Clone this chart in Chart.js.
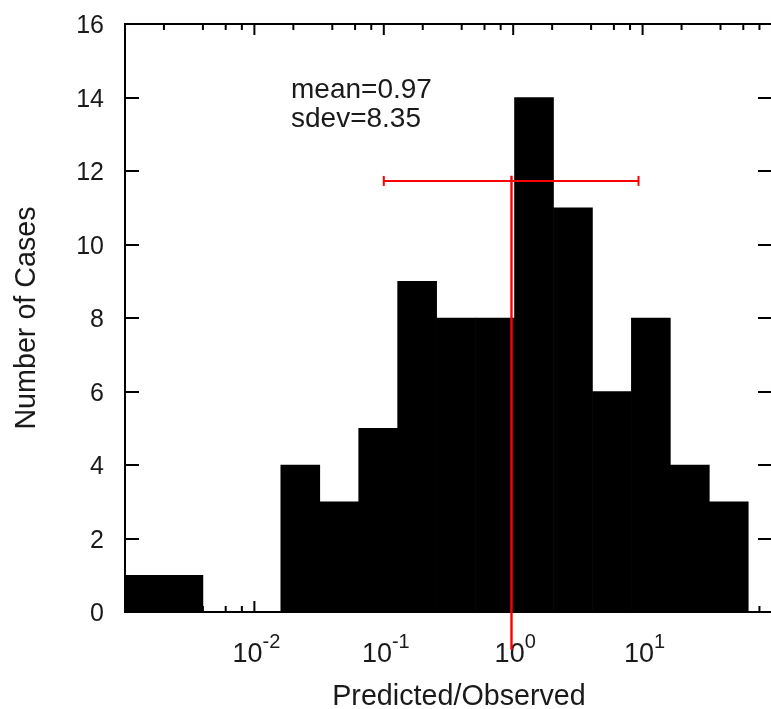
<!DOCTYPE html>
<html>
<head>
<meta charset="utf-8">
<script src="https://cdn.jsdelivr.net/npm/chart.js@4.4.1/dist/chart.umd.min.js"></script>
<style>
  html, body { margin: 0; padding: 0; background: #fff; overflow: hidden; }
  #wrap { width: 771px; height: 709px; overflow: hidden; position: relative; }
  canvas { display: block; }
</style>
</head>
<body>
<div id="wrap"><canvas id="c" width="780" height="709"></canvas></div>
<script>
// ---- data ----
const binEdges = [0.001, 0.002, 0.004, 0.008, 0.016, 0.032, 0.064, 0.128, 0.256, 0.512,
                  1.024, 2.048, 4.096, 8.192, 16.384, 32.768, 65.536];
const counts = [1, 1, 0, 0, 4, 3, 5, 9, 8, 8, 14, 11, 6, 8, 4, 3];
const meanValue = 0.97;
const sdevValue = 8.35;
const meanLineY = [-1.03, 11.87];
const errorBarX = [0.1, 9.3];
const errorBarY = 11.73;
const yTicks = [0, 2, 4, 6, 8, 10, 12, 14, 16];
const xMajorTicks = [0.001, 0.01, 0.1, 1, 10, 100];
const xMinorMultipliers = [2, 4, 6, 8];
const xTickLabels = [
  { value: 0.01, base: '10', exp: '-2' },
  { value: 0.1, base: '10', exp: '-1' },
  { value: 1, base: '10', exp: '0' },
  { value: 10, base: '10', exp: '1' }
];
const xTitle = 'Predicted/Observed';
const yTitle = 'Number of Cases';
const statLines = ['mean=' + meanValue.toFixed(2), 'sdev=' + sdevValue.toFixed(2)];

// ---- build library structures ----
const barPoints = counts.map((c, i) => ({ x: Math.sqrt(binEdges[i] * binEdges[i + 1]), y: c }));

const FONT = '"Liberation Sans", Arial, Helvetica, sans-serif';
const TEXT = '#1a1a1a';

const framePlugin = {
  id: 'frame',
  beforeDatasetsDraw(chart) {
    const { ctx, chartArea: a, scales } = chart;
    const xs = scales.x, ys = scales.y;
    ctx.save();
    // frame
    ctx.strokeStyle = '#000';
    ctx.lineWidth = 2;
    ctx.strokeRect(a.left, a.top, a.right - a.left, a.bottom - a.top);
    // y ticks (inside, both sides)
    ctx.beginPath();
    yTicks.forEach(v => {
      const y = Math.round(ys.getPixelForValue(v));
      ctx.moveTo(a.left, y); ctx.lineTo(a.left + 14, y);
      ctx.moveTo(a.right, y); ctx.lineTo(a.right - 14, y);
    });
    // x major + minor ticks
    xMajorTicks.forEach(v => {
      const x = xs.getPixelForValue(v);
      ctx.moveTo(x, a.bottom); ctx.lineTo(x, a.bottom - 11);
      ctx.moveTo(x, a.top); ctx.lineTo(x, a.top + 11);
      xMinorMultipliers.forEach(m => {
        const mv = v * m;
        if (mv < xs.min || mv > xs.max) return;
        const mx = xs.getPixelForValue(mv);
        ctx.moveTo(mx, a.bottom); ctx.lineTo(mx, a.bottom - 6);
        ctx.moveTo(mx, a.top); ctx.lineTo(mx, a.top + 6);
      });
    });
    ctx.stroke();

    ctx.fillStyle = TEXT;
    // y tick labels
    ctx.font = '25px ' + FONT;
    ctx.textAlign = 'right';
    ctx.textBaseline = 'alphabetic';
    yTicks.forEach(v => {
      const y = ys.getPixelForValue(v);
      ctx.fillText(String(v), 104, y + 9);
    });
    // x tick labels with superscript exponents
    xTickLabels.forEach(t => {
      const x = xs.getPixelForValue(t.value);
      ctx.font = '27px ' + FONT;
      const wb = ctx.measureText(t.base).width;
      ctx.font = '20px ' + FONT;
      const we = ctx.measureText(t.exp).width;
      const start = x + 2 - (wb + we) / 2;
      ctx.textAlign = 'left';
      ctx.font = '27px ' + FONT;
      ctx.fillText(t.base, start, 662);
      ctx.font = '20px ' + FONT;
      ctx.fillText(t.exp, start + wb, 648);
    });
    // axis titles
    ctx.font = '28.7px ' + FONT;
    ctx.textAlign = 'center';
    ctx.fillText(xTitle, 459, 705);
    ctx.save();
    ctx.translate(35, 318);
    ctx.rotate(-Math.PI / 2);
    ctx.fillText(yTitle, 0, 0);
    ctx.restore();
    // stats text
    ctx.font = '28px ' + FONT;
    ctx.textAlign = 'left';
    ctx.fillText(statLines[0], 291, 98);
    ctx.fillText(statLines[1], 291, 127);
    ctx.restore();
  }
};

new Chart(document.getElementById('c'), {
  type: 'bar',
  data: {
    datasets: [
      {
        type: 'line',
        label: 'mean',
        data: [{ x: meanValue, y: meanLineY[0] }, { x: meanValue, y: meanLineY[1] }],
        borderColor: '#ff0000',
        borderWidth: 2.4,
        pointRadius: 0,
        clip: false,
        order: 0
      },
      {
        type: 'line',
        label: 'sdev',
        data: [{ x: errorBarX[0], y: errorBarY }, { x: errorBarX[1], y: errorBarY }],
        borderColor: '#ff0000',
        borderWidth: 2,
        pointStyle: 'line',
        pointRotation: 90,
        pointRadius: 5,
        pointBorderWidth: 2,
        pointBorderColor: '#ff0000',
        clip: false,
        order: 0
      },
      {
        type: 'bar',
        label: 'cases',
        data: barPoints,
        backgroundColor: '#000',
        borderWidth: 0,
        barThickness: 'flex',
        barPercentage: 1,
        categoryPercentage: 1,
        order: 2
      }
    ]
  },
  options: {
    responsive: false,
    animation: false,
    devicePixelRatio: 1,
    layout: { padding: { left: 125, top: 24, right: 8, bottom: 97 } },
    plugins: { legend: { display: false }, tooltip: { enabled: false } },
    scales: {
      x: { type: 'logarithmic', min: 0.001, max: 100, offset: false, display: false },
      y: { type: 'linear', min: 0, max: 16, display: false }
    }
  },
  plugins: [framePlugin]
});
</script>
</body>
</html>
